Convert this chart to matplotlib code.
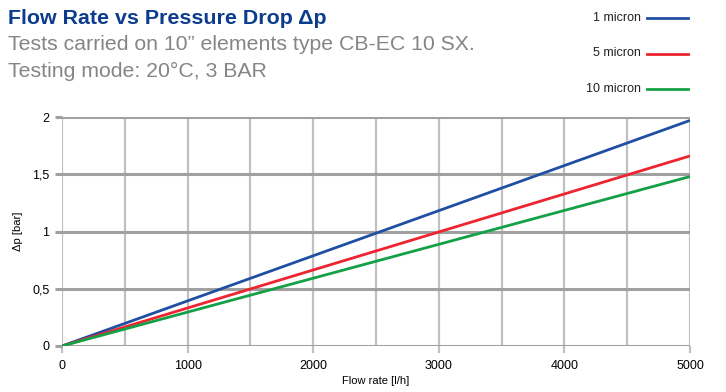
import matplotlib
matplotlib.use('Agg')
import matplotlib.pyplot as plt
import numpy as np

plt.rcParams['font.family'] = ['Liberation Sans', 'DejaVu Sans']

flow = [0, 5000]
series_names = ['1 micron', '5 micron', '10 micron']
dp_1 = [0, 1.97]
dp_5 = [0, 1.66]
dp_10 = [0, 1.48]
colors = ['#1f4ea3', '#ee2430', '#14a046']

fig = plt.figure(figsize=(7.26, 3.92), dpi=100)
ax = fig.add_axes([62 / 726, 46 / 392, 628 / 726, 229 / 392])

for y, c in zip([dp_1, dp_5, dp_10], colors):
    ax.plot(flow, y, color=c, lw=2, zorder=3, solid_capstyle='butt')

ax.set_xlim(0, 5000)
ax.set_ylim(0, 2)
ax.set_xticks([0, 1000, 2000, 3000, 4000, 5000])
ax.set_xticks(np.arange(0, 5001, 500), minor=True)
ax.set_yticks([0, 0.5, 1, 1.5, 2])
ax.set_yticklabels(['0', '0,5', '1', '1,5', '2'])

ax.grid(True, axis='y', which='major', color='#a0a0a0', lw=2.2)
ax.grid(True, axis='x', which='both', color='#c0c0c0', lw=1.6)
for s in ax.spines.values():
    s.set_visible(False)
ax.tick_params(axis='y', length=5, width=2.2, color='#a0a0a0', labelsize=9, pad=4)
ax.tick_params(axis='x', which='both', length=5, width=1.6, color='#c0c0c0', labelsize=9, pad=5)
ax.tick_params(axis='x', which='minor', length=0)
ax.set_xlabel('Flow rate [l/h]', fontsize=8, labelpad=3)
ax.set_ylabel('Δp [bar]', fontsize=8, labelpad=7)

fig.text(8 / 726, 1 - 18 / 392, 'Flow Rate vs Pressure Drop Δp', fontsize=15.4,
         fontweight='bold', color='#0c3c8e', va='center', ha='left')
fig.text(8 / 726, 1 - 45 / 392, 'Tests carried on 10” elements type CB-EC 10 SX.',
         fontsize=15.3, color='#858585', va='center', ha='left')
fig.text(8 / 726, 1 - 71 / 392, 'Testing mode: 20°C, 3 BAR',
         fontsize=15.3, color='#858585', va='center', ha='left')

for i, (name, c) in enumerate(zip(series_names, colors)):
    yy = 1 - (18 + 35.5 * i) / 392
    fig.text(641 / 726, yy, name, fontsize=9, ha='right', va='center', color='#222222')
    fig.add_artist(plt.Line2D([647 / 726, 688 / 726], [yy, yy], color=c, lw=2,
                              transform=fig.transFigure))

fig.savefig('out.png', dpi=100)
